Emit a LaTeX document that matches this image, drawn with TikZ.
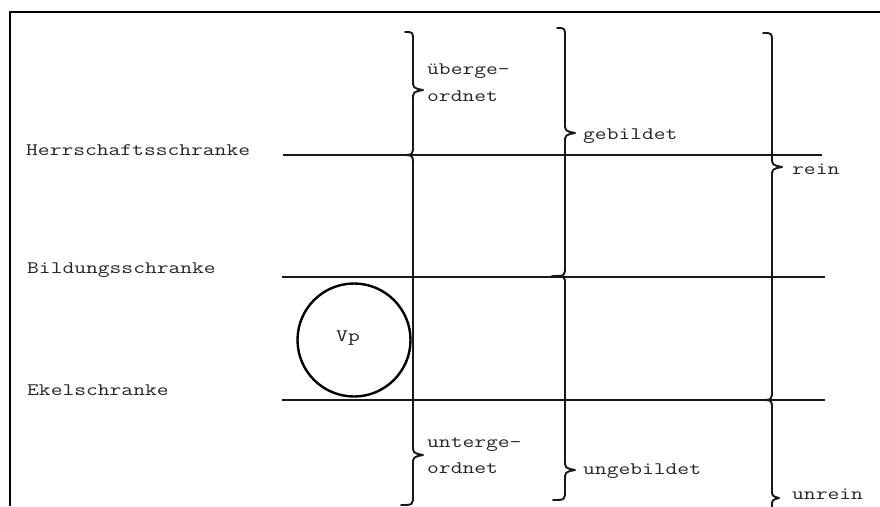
\documentclass[tikz,border=0pt]{standalone}
\usepackage{fontspec}
\newcommand\tws[1]{\scalebox{1.3}[1]{\ttfamily\fontsize{17.6}{21}\selectfont #1}}
\newcommand\rbr[5]{% X, yTop, xTopEnd, yTip, yBottom, bottom end x = #1-12
  \draw[brace] ({#3},{#2}) .. controls ({#1},{#2}) .. ({#1},{#2+9}) -- ({#1},{#4-10})
    .. controls ({#1},{#4-2}) .. ({#1+10},{#4}) .. controls ({#1},{#4+2}) .. ({#1},{#4+10})
    -- ({#1},{#5-10}) .. controls ({#1},{#5}) .. ({#1-12},{#5});}
\tikzset{
  brace/.style={line width=1.9pt, line join=round, line cap=round, black!90},
  rule/.style={line width=1.8pt, black!90},
  frame/.style={line width=2.6pt, black},
  lbl/.style={text=black!85, anchor=base west, inner sep=0pt},
}
\begin{document}
\begin{tikzpicture}[x=1pt,y=-1pt]
\useasboundingbox (0,0) rectangle (880,506);
\fill[white] (0,0) rectangle (880,506);
% frame
\draw[frame] (10,506) -- (10,12) -- (880,12);
% horizontal rules
\coordinate (h1l) at (283,155); \coordinate (h1r) at (822,155);
\coordinate (h2l) at (282,277); \coordinate (h2r) at (825,277);
\coordinate (h3l) at (282,400); \coordinate (h3r) at (825,400);
\draw[rule] (h1l) -- (h1r);
\draw[rule] (h2l) -- (h2r);
\draw[rule] (h3l) -- (h3r);
% braces column 1
\rbr{413}{32}{405}{90}{155}
\rbr{413}{155}{400}{455}{505}
% braces column 2
\rbr{565}{28}{557}{133}{276}
\rbr{565}{276}{552}{470}{500}
% braces column 3
\rbr{772}{33}{763}{167}{400}
\draw[brace] (760,400) .. controls (772,400) .. (772,409) -- (772,490)
  .. controls (772,496) .. (779,498) .. controls (772,500) .. (772,506) -- (772,510);
% circle
\node[draw, circle, line width=2.4pt, minimum size=113pt, inner sep=0pt] (vp) at (354,340) {};
\node[lbl, anchor=center] (vpl) at (348,338) {\tws{Vp}};
% left labels
\node[lbl] (herr) at (26,155) {\tws{Herrschaftsschranke}};
\node[lbl] (bild) at (27,273) {\tws{Bildungsschranke}};
\node[lbl] (ekel) at (27,395) {\tws{Ekelschranke}};
% brace labels
\node[lbl] (ueb1) at (427,74) {\tws{überge-}};
\node[lbl] (ueb2) at (427,101) {\tws{ordnet}};
\node[lbl] (geb) at (583,139) {\tws{gebildet}};
\node[lbl] (rein) at (792,174) {\tws{rein}};
\node[lbl] (unt1) at (427,447) {\tws{unterge-}};
\node[lbl] (unt2) at (427,473) {\tws{ordnet}};
\node[lbl] (ungeb) at (583,474) {\tws{ungebildet}};
\node[lbl] (unrein) at (792,499) {\tws{unrein}};
\end{tikzpicture}
\end{document}
